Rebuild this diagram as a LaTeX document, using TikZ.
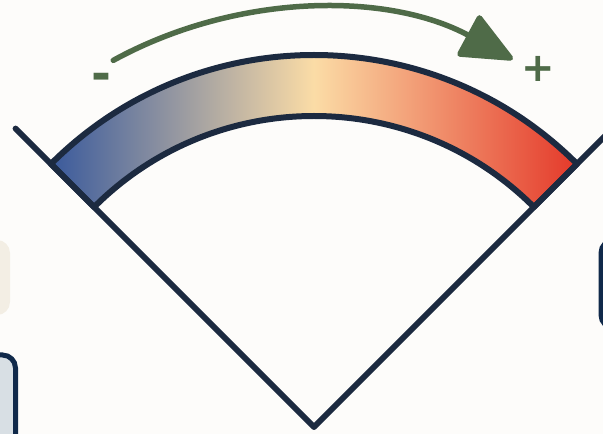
\documentclass[tikz,border=0pt]{standalone}
\usepackage{fontspec}
\newfontfamily\signfont{DejaVu Sans}
\usetikzlibrary{arrows.meta,calc}
\definecolor{bgc}{HTML}{FDFCFA}
\definecolor{navy}{HTML}{1C2A40}
\definecolor{boxnavy}{HTML}{10294A}
\definecolor{arrgreen}{HTML}{4F6B48}
\definecolor{cblue}{HTML}{3A5A9C}
\definecolor{cbeige}{HTML}{FBDCA6}
\definecolor{cred}{HTML}{E4392A}
\definecolor{beigebox}{HTML}{F3EEE4}
\definecolor{graybox}{HTML}{D8DFE4}
\pgfdeclarehorizontalshading{bandshade}{100bp}{%
  color(0bp)=(cblue); color(25bp)=(cblue); color(50bp)=(cbeige);
  color(75bp)=(cred); color(100bp)=(cred)}
\tikzset{
  outline/.style={draw=navy, line width=6pt, line join=round, line cap=round},
  sign/.style={text=arrgreen, font=\signfont\bfseries, inner sep=0pt, anchor=base},
  edgebox/.style={line width=5pt, rounded corners=13pt}
}
\begin{document}
\begin{tikzpicture}[x=1pt,y=1pt]
\useasboundingbox (0,0) rectangle (603,434);
\fill[bgc] (0,0) rectangle (603,434);
\clip (0,0) rectangle (603,434);
% partial boxes at the edges
\fill[beigebox, rounded corners=13pt] (-30,119) rectangle (10,194);
\draw[edgebox, draw=boxnavy, fill=graybox] (-30,-30) rectangle (15.5,79);
\draw[edgebox, draw=boxnavy, fill=white] (601,106) rectangle (650,194);
% geometry
\coordinate (A) at (314,7);
\coordinate (L) at ($(A)+(135:422)$);
\coordinate (R) at ($(A)+(45:440)$);
% gradient band
\shade[shading=bandshade]
  ($(A)+(45:311)$) arc[start angle=45, end angle=135, radius=311]
  -- ($(A)+(135:372)$) arc[start angle=135, end angle=45, radius=372] -- cycle;
\draw[outline]
  ($(A)+(45:311)$) arc[start angle=45, end angle=135, radius=311]
  -- ($(A)+(135:372)$) arc[start angle=135, end angle=45, radius=372] -- cycle;
% V lines
\draw[outline] (L) -- (A) -- (R);
% arrow
\draw[draw=arrgreen, line width=5.5pt, line cap=round,
      -{Triangle[length=56pt, width=48pt, round=false]}]
  ($(A)+(118.7:418)$) arc[start angle=118.7, end angle=61.6, radius=418];
\node[sign, font=\signfont\bfseries\fontsize{48}{48}\selectfont] (minus) at (101,343) {-};
\node[sign, font=\signfont\bfseries\fontsize{40}{40}\selectfont] (plus) at (538,352) {+};
\end{tikzpicture}
\end{document}
